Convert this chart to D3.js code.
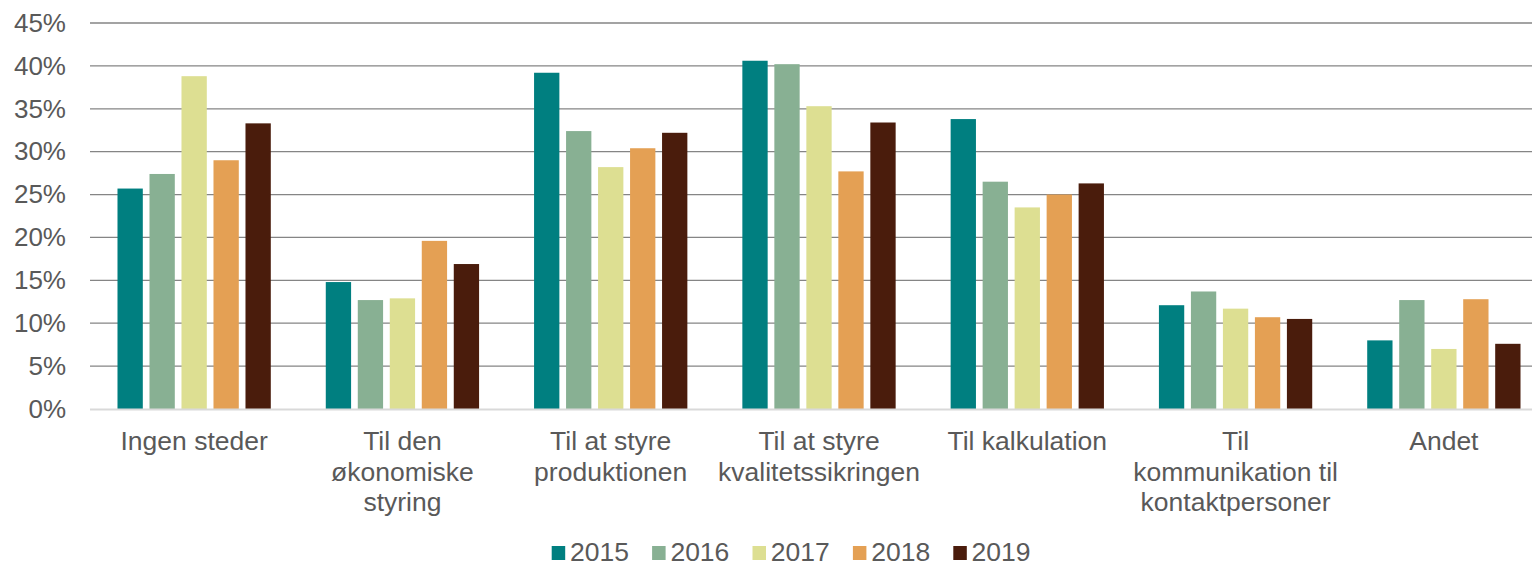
<!DOCTYPE html>
<html>
<head>
<meta charset="utf-8">
<script src="https://cdn.jsdelivr.net/npm/d3@7"></script>
<style>
  html, body { margin: 0; padding: 0; background: #fff; }
  svg { display: block; font-family: "Liberation Sans", Arial, sans-serif; }
</style>
</head>
<body>
<svg id="chart" width="1532" height="567"></svg>
<script>
// categories (multi-line labels split on |)
var categories = [
  'Ingen steder',
  'Til den|økonomiske|styring',
  'Til at styre|produktionen',
  'Til at styre|kvalitetssikringen',
  'Til kalkulation',
  'Til|kommunikation til|kontaktpersoner',
  'Andet'
];
var years = ['2015', '2016', '2017', '2018', '2019'];
var colors = ['#007f80', '#88b093', '#dddf92', '#e4a054', '#4a1c0c'];

// percent values per year, in category order
var v2015 = [25.7, 14.8, 39.2, 40.6, 33.8, 12.1, 8.0];
var v2016 = [27.4, 12.7, 32.4, 40.2, 26.5, 13.7, 12.7];
var v2017 = [38.8, 12.9, 28.2, 35.3, 23.5, 11.7, 7.0];
var v2018 = [29.0, 19.6, 30.4, 27.7, 25.0, 10.7, 12.8];
var v2019 = [33.3, 16.9, 32.2, 33.4, 26.3, 10.5, 7.6];
var series = [v2015, v2016, v2017, v2018, v2019];

var yTicks = [0, 5, 10, 15, 20, 25, 30, 35, 40, 45];

var svg = d3.select('#chart');
var textColor = '#595959';
var fontSize = '26.5px';

var x0 = d3.scaleBand().domain(d3.range(categories.length)).range([90, 1548]);
var x1 = d3.scaleBand().domain(years)
  .range([0, 153.3]).paddingInner(0.209).paddingOuter(0);
var groupOffset = (x0.bandwidth() - 153.3) / 2;
var y = d3.scaleLinear().domain([0, 45]).range([409, 23]);

// gridlines
svg.append('g')
  .selectAll('line')
  .data(yTicks.slice(1))
  .enter().append('line')
  .attr('x1', 90).attr('x2', 1548)
  .attr('y1', function(d) { return y(d); })
  .attr('y2', function(d) { return y(d); })
  .attr('stroke', '#858585')
  .attr('stroke-width', 1.3);

// y axis labels
var yAxis = d3.axisLeft(y).tickValues(yTicks)
  .tickFormat(function(d) { return d + '%'; })
  .tickSize(0).tickPadding(0);
var yg = svg.append('g').attr('transform', 'translate(66,0)').call(yAxis);
yg.select('.domain').remove();
yg.selectAll('text')
  .attr('fill', textColor)
  .style('font-size', '26px')
  .style('font-family', '"Liberation Sans", Arial, sans-serif');

// bars
var groups = svg.append('g').selectAll('g')
  .data(categories)
  .enter().append('g')
  .attr('transform', function(d, i) { return 'translate(' + (x0(i) + groupOffset) + ',0)'; });

groups.selectAll('rect')
  .data(function(d, i) {
    return years.map(function(yr, k) { return { year: yr, k: k, value: series[k][i] }; });
  })
  .enter().append('rect')
  .attr('x', function(d) { return x1(d.year); })
  .attr('width', x1.bandwidth())
  .attr('y', function(d) { return y(d.value); })
  .attr('height', function(d) { return y(0) - y(d.value); })
  .attr('fill', function(d) { return colors[d.k]; });

// baseline
svg.append('line')
  .attr('x1', 90).attr('x2', 1548)
  .attr('y1', y(0) + 0.5).attr('y2', y(0) + 0.5)
  .attr('stroke', '#d9d9d9')
  .attr('stroke-width', 2);

// category labels
var catLabels = svg.append('g').selectAll('text')
  .data(categories)
  .enter().append('text')
  .attr('text-anchor', 'middle')
  .attr('fill', textColor)
  .style('font-size', fontSize)
  .attr('transform', function(d, i) { return 'translate(' + (x0(i) + x0.bandwidth() / 2) + ',450)'; });

catLabels.selectAll('tspan')
  .data(function(d) { return d.split('|'); })
  .enter().append('tspan')
  .attr('x', 0)
  .attr('y', function(d, i) { return i * 30.5; })
  .text(function(d) { return d; });

// legend (kept just above the bottom edge)
var legend = svg.append('g').selectAll('g')
  .data(years)
  .enter().append('g')
  .attr('transform', function(d, i) { return 'translate(' + (551.7 + i * 100.4) + ',0)'; });

legend.append('rect')
  .attr('x', 0).attr('y', 546)
  .attr('width', 13.5).attr('height', 14)
  .attr('fill', function(d, i) { return colors[i]; });

legend.append('text')
  .attr('x', 18.3).attr('y', 560.5)
  .attr('fill', textColor)
  .style('font-size', fontSize)
  .text(function(d) { return d; });
</script>
</body>
</html>
